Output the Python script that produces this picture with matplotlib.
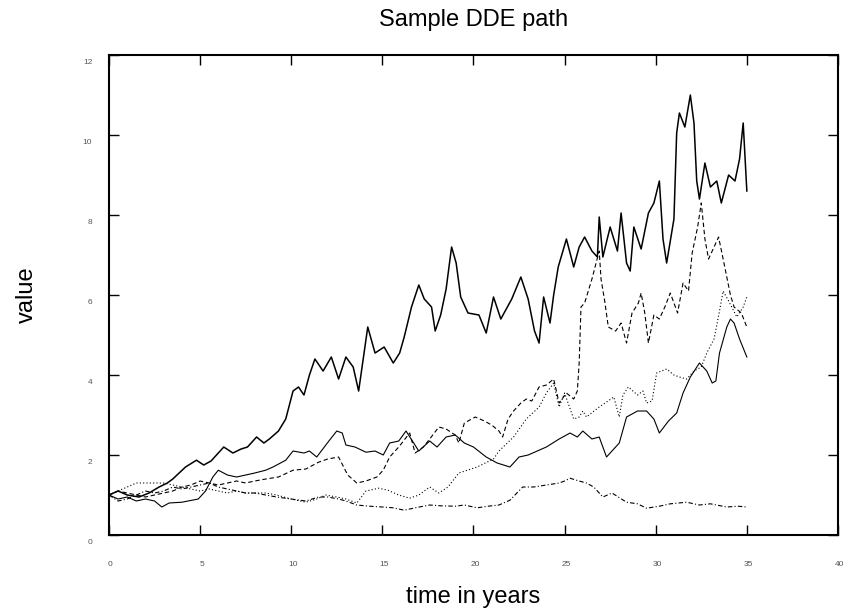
import matplotlib
matplotlib.use('Agg')
import matplotlib.pyplot as plt
from matplotlib.transforms import ScaledTranslation

plt.rcParams['font.family'] = ['Liberation Sans', 'DejaVu Sans']

# path 1, solid (the one that ends highest)
t_solid = [0, 0.5, 1.0, 1.65, 2.2, 2.75, 3.2, 3.5, 4.2, 4.8,
           5.2, 5.6, 6.3, 6.8, 7.25, 7.6, 8.1, 8.5, 8.8, 9.3,
           9.7, 10.1, 10.4, 10.7, 11.0, 11.3, 11.75, 12.2, 12.6, 13.0,
           13.4, 13.7, 14.2, 14.6, 15.1, 15.6, 15.95, 16.2, 16.6, 17.0,
           17.3, 17.7, 17.9, 18.2, 18.5, 18.8, 19.05, 19.3, 19.7, 20.3,
           20.7, 21.1, 21.5, 22.1, 22.6, 23.0, 23.35, 23.6, 23.85, 24.2,
           24.4, 24.65, 25.1, 25.5, 25.8, 26.1, 26.5, 26.8, 26.9, 27.1,
           27.5, 27.9, 28.1, 28.4, 28.6, 28.8, 29.2, 29.6, 29.9, 30.2,
           30.4, 30.6, 31.0, 31.15, 31.3, 31.6, 31.9, 32.1, 32.25, 32.4,
           32.7, 33.0, 33.35, 33.6, 34.0, 34.35, 34.6, 34.8, 35.0]
v_solid = [1.0, 1.1, 1.0, 0.95, 1.05, 1.2, 1.3, 1.4, 1.7, 1.87,
           1.75, 1.85, 2.2, 2.05, 2.15, 2.2, 2.45, 2.3, 2.4, 2.6,
           2.9, 3.6, 3.7, 3.5, 4.0, 4.4, 4.1, 4.45, 3.9, 4.45,
           4.2, 3.6, 5.2, 4.55, 4.7, 4.3, 4.55, 4.95, 5.7, 6.25,
           5.9, 5.7, 5.1, 5.5, 6.15, 7.2, 6.8, 5.95, 5.55, 5.5,
           5.05, 5.95, 5.4, 5.9, 6.45, 5.9, 5.1, 4.8, 5.95, 5.3,
           6.0, 6.7, 7.4, 6.7, 7.2, 7.45, 7.1, 6.95, 7.95, 6.95,
           7.7, 7.1, 8.05, 6.8, 6.6, 7.7, 7.15, 8.05, 8.3, 8.85,
           7.4, 6.8, 7.9, 10.05, 10.55, 10.2, 11.0, 10.3, 8.85, 8.4,
           9.3, 8.7, 8.85, 8.3, 9.0, 8.85, 9.4, 10.3, 8.6]

# path 2, dashed (jumps up near year 26)
t_dash = [0, 0.5, 1.0, 1.5, 2.0, 2.5, 3.0, 3.5, 4.0, 4.5,
          5.0, 5.5, 6.0, 6.5, 7.0, 7.5, 8.0, 8.6, 9.3, 10.1,
          10.8, 11.5, 12.0, 12.6, 13.1, 13.6, 14.1, 14.7, 15.05, 15.4,
          15.9, 16.5, 16.8, 17.25, 17.6, 18.1, 18.5, 19.0, 19.2, 19.5,
          20.1, 20.6, 21.0, 21.4, 21.6, 21.9, 22.2, 22.6, 22.9, 23.2,
          23.6, 24.0, 24.4, 24.7, 25.1, 25.5, 25.7, 25.8, 25.9, 26.1,
          26.5, 26.9, 27.0, 27.2, 27.4, 27.8, 28.1, 28.4, 28.7, 29.05,
          29.2, 29.4, 29.6, 29.9, 30.2, 30.5, 30.8, 31.2, 31.5, 31.8,
          32.0, 32.3, 32.5, 32.7, 32.9, 33.2, 33.45, 33.7, 33.9, 34.1,
          34.3, 34.7, 35.0]
v_dash = [1.0, 1.1, 1.05, 1.0, 0.95, 1.0, 1.05, 1.1, 1.2, 1.25,
          1.35, 1.3, 1.25, 1.3, 1.35, 1.3, 1.35, 1.4, 1.45, 1.62,
          1.65, 1.82, 1.9, 1.95, 1.5, 1.3, 1.35, 1.45, 1.62, 1.95,
          2.2, 2.55, 2.05, 2.2, 2.4, 2.7, 2.65, 2.5, 2.3, 2.8,
          2.95, 2.85, 2.75, 2.6, 2.45, 2.9, 3.1, 3.3, 3.4, 3.35,
          3.7, 3.75, 3.9, 3.3, 3.55, 3.4, 3.6, 4.3, 5.7, 5.8,
          6.4, 7.1, 6.4, 5.85, 5.2, 5.1, 5.3, 4.8, 5.55, 5.8,
          6.05, 5.55, 4.8, 5.5, 5.4, 5.7, 6.05, 5.55, 6.3, 6.1,
          7.05, 7.7, 8.3, 7.4, 6.9, 7.2, 7.45, 6.9, 6.45, 6.0,
          5.7, 5.55, 5.2]

# path 3, dotted
t_dot = [0, 0.5, 1.0, 1.5, 2.2, 3.0, 3.5, 4.0, 4.5, 5.0,
         5.5, 6.0, 6.5, 7.0, 7.5, 8.0, 8.6, 9.2, 10.0, 10.8,
         11.4, 11.9, 12.5, 13.0, 13.6, 14.1, 14.8, 15.3, 15.9, 16.5,
         17.0, 17.6, 18.1, 18.6, 19.2, 20.2, 21.1, 21.4, 22.2, 22.9,
         23.6, 24.0, 24.4, 24.6, 24.7, 25.0, 25.5, 25.8, 26.0, 26.2,
         26.9, 27.7, 28.0, 28.2, 28.5, 29.0, 29.3, 29.5, 29.8, 30.05,
         30.6, 31.0, 31.3, 31.7, 32.1, 32.5, 32.8, 33.2, 33.5, 33.7,
         34.0, 34.45, 34.8, 35.0]
v_dot = [1.0, 1.1, 1.2, 1.3, 1.3, 1.3, 1.25, 1.2, 1.15, 1.1,
         1.15, 1.1, 1.05, 1.1, 1.05, 1.05, 1.05, 1.0, 0.9, 0.82,
         0.9, 1.0, 0.95, 0.9, 0.8, 1.1, 1.17, 1.12, 1.0, 0.92,
         1.0, 1.2, 1.05, 1.2, 1.55, 1.7, 1.9, 2.1, 2.45, 2.9,
         3.2, 3.55, 3.8, 3.4, 3.2, 3.55, 2.9, 2.95, 3.1, 2.95,
         3.2, 3.45, 2.95, 3.5, 3.7, 3.5, 3.6, 3.3, 3.35, 4.05,
         4.15, 4.0, 3.95, 3.9, 4.1, 4.2, 4.55, 4.9, 5.6, 6.1,
         5.85, 5.45, 5.7, 5.95]

# path 4, dash-dot (stays lowest)
t_dashdot = [0, 0.5, 1.0, 1.5, 2.0, 2.5, 3.0, 3.5, 4.0, 4.5,
             5.0, 5.5, 6.0, 6.5, 7.0, 7.5, 8.0, 8.6, 9.2, 10.0,
             10.8, 11.5, 12.0, 12.6, 13.0, 13.6, 14.3, 15.0, 15.6, 16.2,
             16.8, 17.6, 18.2, 19.0, 19.5, 20.2, 20.8, 21.4, 22.0, 22.7,
             23.3, 24.0, 24.7, 25.0, 25.3, 25.8, 26.2, 26.6, 27.1, 27.6,
             28.4, 29.0, 29.5, 30.2, 30.8, 31.7, 32.4, 33.0, 33.9, 34.5,
             35.0]
v_dashdot = [1.0, 0.85, 0.9, 1.0, 1.1, 1.05, 1.1, 1.2, 1.15, 1.2,
             1.25, 1.3, 1.2, 1.15, 1.1, 1.05, 1.05, 1.0, 0.95, 0.9,
             0.85, 0.95, 0.95, 0.9, 0.85, 0.75, 0.72, 0.7, 0.68, 0.62,
             0.68, 0.75, 0.73, 0.72, 0.75, 0.68, 0.72, 0.75, 0.87, 1.2,
             1.2, 1.25, 1.3, 1.35, 1.42, 1.35, 1.3, 1.2, 0.95, 1.05,
             0.82, 0.78, 0.67, 0.72, 0.78, 0.82, 0.75, 0.78, 0.7, 0.72,
             0.7]

# path 5, solid again (ends near 4.5)
t_fifth = [0, 0.5, 1.0, 1.5, 2.0, 2.5, 2.9, 3.3, 4.0, 4.9,
           5.3, 5.7, 6.0, 6.5, 7.0, 7.5, 8.0, 8.6, 9.0, 9.7,
           10.1, 10.7, 11.0, 11.4, 12.1, 12.5, 12.8, 13.0, 13.5, 14.1,
           14.6, 15.05, 15.4, 15.9, 16.3, 17.0, 17.6, 18.0, 18.5, 19.0,
           19.5, 20.0, 20.7, 21.3, 22.0, 22.5, 23.0, 23.5, 24.0, 24.7,
           25.3, 25.7, 26.0, 26.5, 26.9, 27.3, 27.6, 28.0, 28.4, 29.0,
           29.5, 29.9, 30.2, 30.7, 31.15, 31.5, 31.9, 32.4, 32.8, 33.1,
           33.3, 33.5, 33.9, 34.1, 34.3, 34.6, 35.0]
v_fifth = [1.0, 0.9, 0.95, 0.85, 0.9, 0.85, 0.7, 0.8, 0.82, 0.9,
           1.1, 1.45, 1.62, 1.5, 1.45, 1.5, 1.55, 1.62, 1.7, 1.87,
           2.1, 2.05, 2.1, 1.95, 2.37, 2.6, 2.55, 2.25, 2.2, 2.07,
           2.1, 2.0, 2.3, 2.35, 2.6, 2.1, 2.35, 2.2, 2.45, 2.5,
           2.3, 2.2, 1.95, 1.8, 1.7, 1.95, 2.0, 2.1, 2.2, 2.4,
           2.55, 2.45, 2.6, 2.4, 2.45, 1.95, 2.1, 2.3, 2.95, 3.1,
           3.1, 2.9, 2.55, 2.85, 3.05, 3.55, 3.95, 4.3, 4.1, 3.8,
           3.85, 4.55, 5.2, 5.4, 5.3, 4.9, 4.45]

x_ticks = [0, 5, 10, 15, 20, 25, 30, 35, 40]
y_ticks = [0, 2, 4, 6, 8, 10, 12]

fig = plt.figure(figsize=(8.46, 6.12), dpi=100)
ax = fig.add_axes([0.1288, 0.1258, 0.8617, 0.7843])

ax.plot(t_solid, v_solid, color='k', lw=1.1, ls='-')
ax.plot(t_dash, v_dash, color='k', lw=0.8, ls=(0, (4, 2.5)))
ax.plot(t_dot, v_dot, color='k', lw=0.8, ls=(0, (1, 2)))
ax.plot(t_dashdot, v_dashdot, color='k', lw=0.8, ls=(0, (4, 2, 1, 2)))
ax.plot(t_fifth, v_fifth, color='k', lw=0.8, ls='-')

ax.set_xlim(0, 40)
ax.set_ylim(0, 12)
ax.set_xticks(x_ticks)
ax.set_yticks(y_ticks)

for s in ax.spines.values():
    s.set_linewidth(1.5)
ax.tick_params(direction='in', length=7, width=1, top=True, right=True,
               labelsize=6, labelcolor='#555555')
ax.tick_params(axis='x', pad=19)
ax.tick_params(axis='y', pad=12)

# matlab puts the labels a little off the tick positions
for lab in ax.get_yticklabels():
    lab.set_transform(lab.get_transform() + ScaledTranslation(0, -0.06, fig.dpi_scale_trans))
for lab in ax.get_xticklabels():
    lab.set_transform(lab.get_transform() + ScaledTranslation(0.015, 0, fig.dpi_scale_trans))

ax.set_title('Sample DDE path', fontsize=17, pad=21)
ax.set_xlabel('time in years', fontsize=17)
ax.set_ylabel('value', fontsize=17)
ax.xaxis.set_label_coords(0.5, -0.106)
ax.yaxis.set_label_coords(-0.097, 0.5)

fig.savefig('out.png', dpi=100)
